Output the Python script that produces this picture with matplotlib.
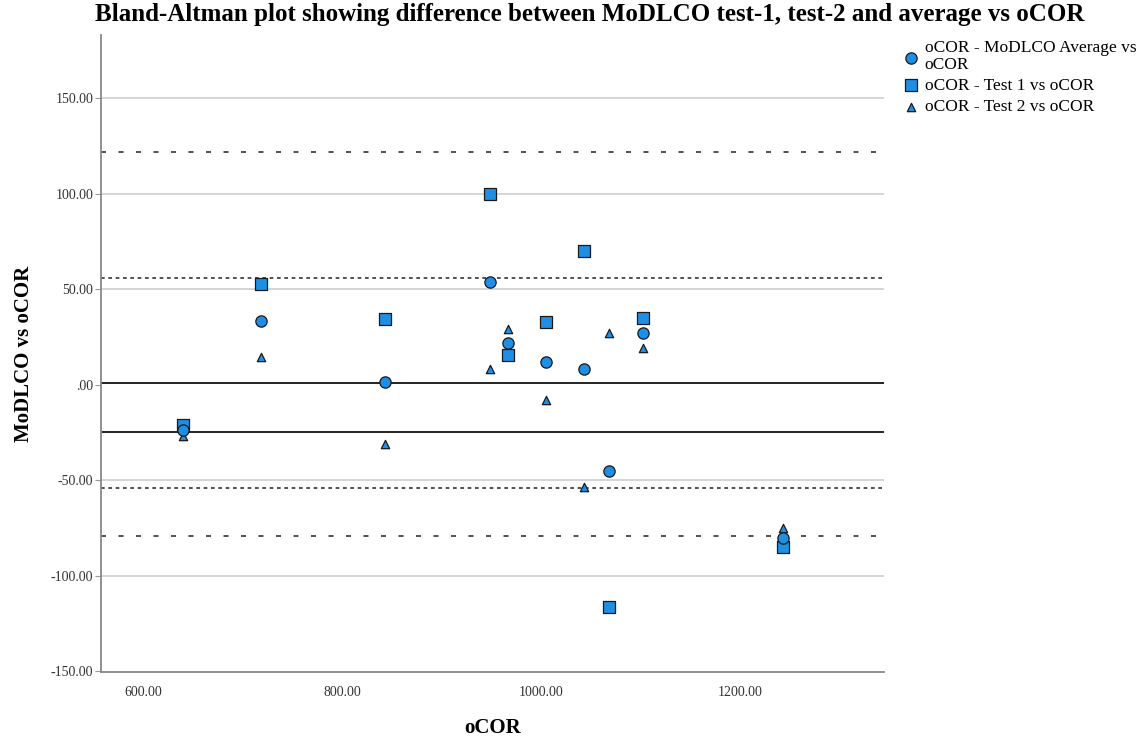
import matplotlib
matplotlib.use("Agg")
import matplotlib.pyplot as plt

# ---- data ----
ocor = [640, 718.6, 843, 948.7, 966.8, 1005, 1043.5, 1068.3, 1102.5, 1243.5]
avg_diff = [-24.0, 33.4, 1.3, 53.5, 21.9, 11.9, 8.0, -45.1, 26.8, -80.5]
test1_diff = [-21.0, 52.8, 34.3, 99.7, 15.3, 32.7, 69.9, -116.3, 34.6, -84.9]
test2_diff = [-27.0, 14.6, -31.2, 8.0, 28.9, -8.1, -53.8, 26.8, 19.0, -75.3]

solid_lines = [0.6, -25.0]
dense_dashed = [55.9, -54.0]
sparse_dashed = [121.7, -79.2]

yticks = [-150, -100, -50, 0, 50, 100, 150]
ytick_labels = ["-150.00", "-100.00", "-50.00", ".00", "50.00", "100.00", "150.00"]
xticks = [600, 800, 1000, 1200]
xtick_labels = ["600.00", "800.00", "1000.00", "1200.00"]

title = "Bland-Altman plot showing difference between MoDLCO test-1, test-2 and average vs oCOR"
labels = ["oCOR - MoDLCO Average vs\noCOR", "oCOR - Test 1 vs oCOR", "oCOR - Test 2 vs oCOR"]

plt.rcParams['font.family'] = ['Liberation Serif', 'DejaVu Serif']

fig = plt.figure(figsize=(11.46, 7.38), dpi=100)
ax = fig.add_axes([101/1146, 66/738, (884-101)/1146, (672-35)/738])

blue = '#1F8FE5'
edge = '#1a1a1a'

# grid lines
for v in [150, 100, 50, -50, -100]:
    ax.axhline(v, color='#d2d2d2', lw=1.3, zorder=1)

for v in solid_lines:
    ax.axhline(v, color='#222222', lw=1.4, zorder=2)
for v in dense_dashed:
    ax.axhline(v, color='#333333', lw=1.2, dashes=(2.2, 2.2), zorder=2)
for v in sparse_dashed:
    ax.axhline(v, color='#333333', lw=1.2, dashes=(3, 7.5), zorder=2)

h1 = ax.scatter(ocor, test2_diff, marker='^', s=36, color=blue, edgecolor=edge, linewidth=0.9, zorder=3)
h2 = ax.scatter(ocor, test1_diff, marker='s', s=66, color=blue, edgecolor=edge, linewidth=0.9, zorder=4)
h3 = ax.scatter(ocor, avg_diff, marker='o', s=66, color=blue, edgecolor=edge, linewidth=0.9, zorder=5)

ax.set_xlim(557.8, 1344.7)
ax.set_ylim(-150.5, 183)
ax.set_yticks(yticks)
ax.set_yticklabels(ytick_labels)
ax.set_xticks(xticks)
ax.set_xticklabels(xtick_labels)
ax.tick_params(axis='y', length=4, color='#999999', labelsize=10, labelcolor='#333333', pad=1.5)
ax.tick_params(axis='x', length=0, labelsize=10, labelcolor='#333333', pad=10)

for s in ['top', 'right']:
    ax.spines[s].set_visible(False)
for s in ['left', 'bottom']:
    ax.spines[s].set_color('#888888')
    ax.spines[s].set_linewidth(1.3)

ax.set_xlabel("oCOR", fontsize=15, fontweight='bold', labelpad=14)
ax.set_ylabel("MoDLCO vs oCOR", fontsize=15, fontweight='bold', labelpad=12)
fig.text(590/1146, 1 - 14/738, title, fontsize=18, fontweight='bold', ha='center', va='center')

leg = fig.legend([h3, h2, h1], labels, loc='upper left', bbox_to_anchor=(902/1146, 1 - 40/738),
                 frameon=False, fontsize=12.5, handletextpad=0.3, labelspacing=0.3,
                 borderaxespad=0, handlelength=1.0, markerscale=1.0, borderpad=0)
for t in leg.get_texts():
    t.set_linespacing(1.05)

fig.savefig("out.png", dpi=100)
